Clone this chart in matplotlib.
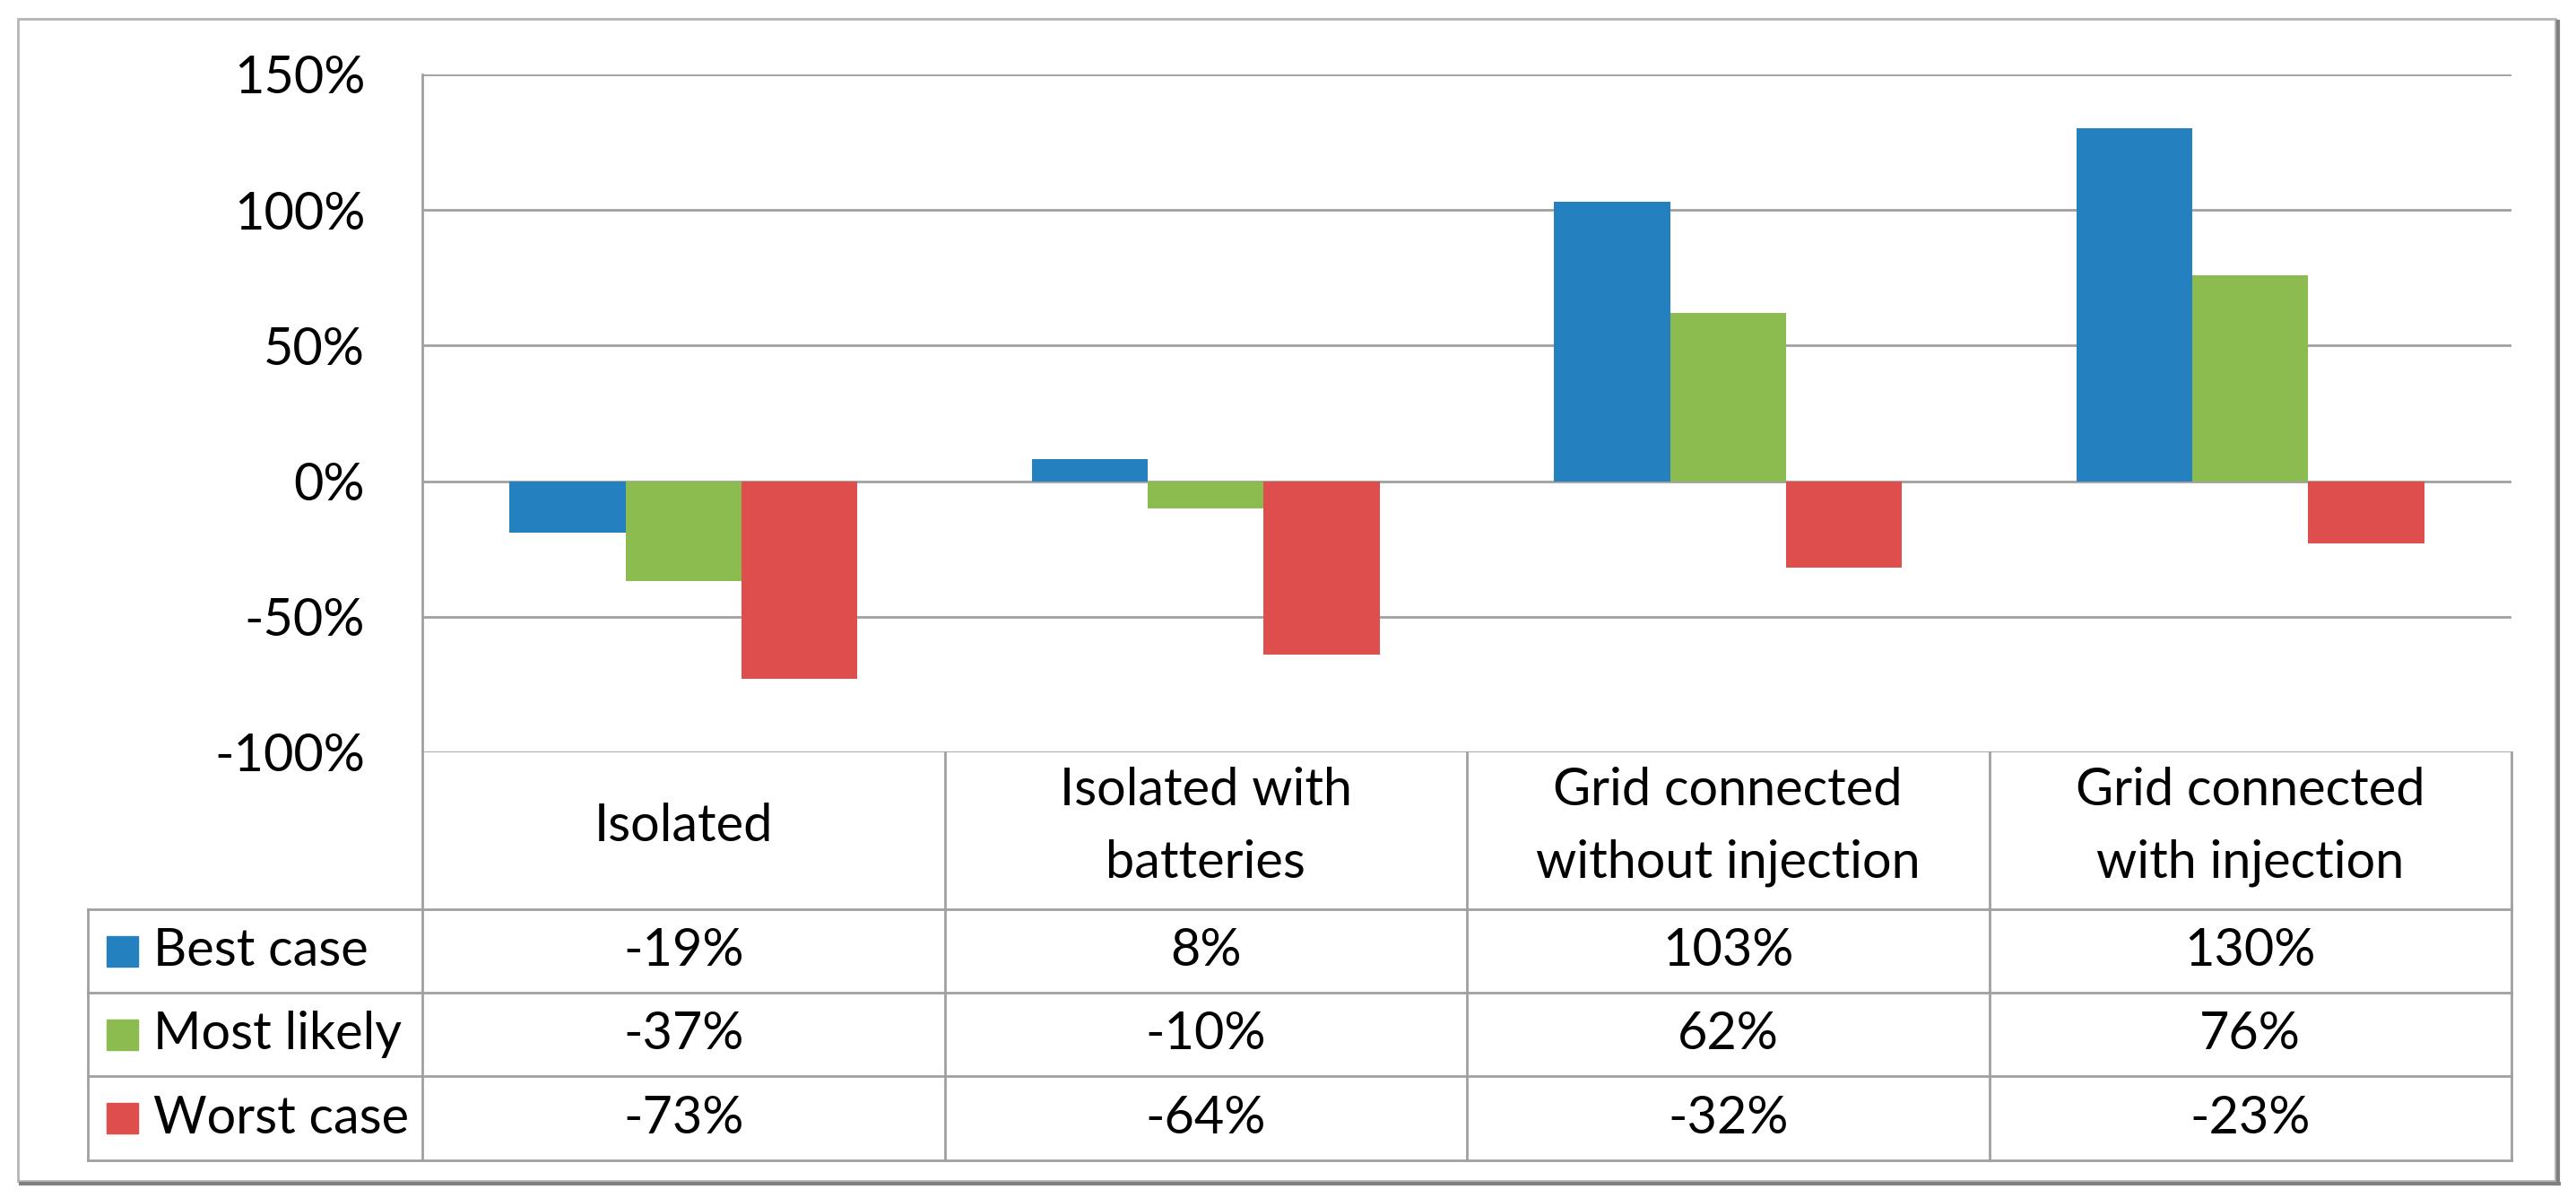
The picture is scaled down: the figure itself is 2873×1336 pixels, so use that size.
import matplotlib
matplotlib.use("Agg")
import matplotlib.pyplot as plt
from matplotlib.patches import Rectangle
from matplotlib.lines import Line2D
from matplotlib.ticker import FuncFormatter

plt.rcParams['font.family'] = ['Lato', 'DejaVu Sans']

# дані з графіка
categories = ["Isolated", "Isolated with\nbatteries", "Grid connected\nwithout injection",
              "Grid connected\nwith injection"]
series_names = ["Best case", "Most likely", "Worst case"]
best_case = [-0.19, 0.08, 1.03, 1.30]
most_likely = [-0.37, -0.10, 0.62, 0.76]
worst_case = [-0.73, -0.64, -0.32, -0.23]
series = [best_case, most_likely, worst_case]
colors = ["#2580BF", "#8CBB50", "#DD4E4C"]
yticks = [-1.0, -0.5, 0.0, 0.5, 1.0, 1.5]

W, H = 2873, 1336
fig = plt.figure(figsize=(W / 100, H / 100), dpi=100)

# область графіка в пікселях
left, right, top, bottom = 471, 2801, 83, 839
ax = fig.add_axes([left / W, 1 - bottom / H, (right - left) / W, (bottom - top) / H])
ax.set_xlim(0, 4)
ax.set_ylim(-1, 1.5)

grid_c = "#A0A0A0"
lw = 2.0
fs = 41.5

w = 1 / 4.5
for j, vals in enumerate(series):
    xs = [i + 0.5 + (j - 1) * w for i in range(len(vals))]
    ax.bar(xs, vals, width=w, color=colors[j], zorder=3, linewidth=0)

ax.set_yticks(yticks)
ax.yaxis.set_major_formatter(FuncFormatter(lambda v, p: f"{v * 100:.0f}%"))
ax.tick_params(axis='y', length=0, pad=46, labelsize=fs)
ax.tick_params(axis='x', length=0, labelbottom=False)
ax.grid(axis='y', color=grid_c, linewidth=lw, zorder=1)
for s in ['top', 'right', 'bottom']:
    ax.spines[s].set_visible(False)
ax.spines['left'].set_color(grid_c)
ax.spines['left'].set_linewidth(lw)

# таблиця під графіком (в координатах даних)
px_x = (right - left) / 4
px_y = (bottom - top) / 2.5
def dy(p):
    return -1 - (p - bottom) / px_y
def dx(p):
    return (p - left) / px_x

row_lines = [dy(1014), dy(1107), dy(1200), dy(1294)]
leg_left = dx(98)
y_end = row_lines[-1]

for y in row_lines:
    ax.plot([leg_left, 4], [y, y], color=grid_c, lw=lw, clip_on=False, zorder=2)
ax.plot([0, 0], [-1, y_end], color=grid_c, lw=lw, clip_on=False)
for x in range(1, 5):
    ax.plot([x, x], [-1, y_end], color=grid_c, lw=lw, clip_on=False)
ax.plot([leg_left, leg_left], [row_lines[0], y_end], color=grid_c, lw=lw, clip_on=False)

head_y = dy(922)
for i, cat in enumerate(categories):
    ax.text(i + 0.5, head_y, cat, ha='center', va='center', fontsize=fs,
            linespacing=1.65, clip_on=False)

sq_w = 35 / px_x
sq_h = 34 / px_y
for j, name in enumerate(series_names):
    yc = (row_lines[j] + row_lines[j + 1]) / 2
    ax.add_patch(Rectangle((dx(119), yc - sq_h / 2), sq_w, sq_h, color=colors[j],
                           clip_on=False))
    ax.text(dx(171), yc, name, ha='left', va='center', fontsize=fs, clip_on=False)
    for i, v in enumerate(series[j]):
        ax.text(i + 0.5, yc, f"{v * 100:.0f}%", ha='center', va='center',
                fontsize=fs, clip_on=False)

# рамка з тінню
fig.add_artist(Rectangle((20 / W, 1 - 1317 / H), 2830 / W, 1296 / H, transform=fig.transFigure,
                         fill=False, edgecolor="#B5B5B5", linewidth=2))
fig.add_artist(Line2D([2853 / W, 2853 / W], [1 - 1320 / H, 1 - 24 / H], transform=fig.transFigure,
                      color="#808080", linewidth=3))
fig.add_artist(Line2D([23 / W, 2854 / W], [1 - 1320 / H, 1 - 1320 / H], transform=fig.transFigure,
                      color="#808080", linewidth=3))

fig.savefig("out.png", dpi=100)
